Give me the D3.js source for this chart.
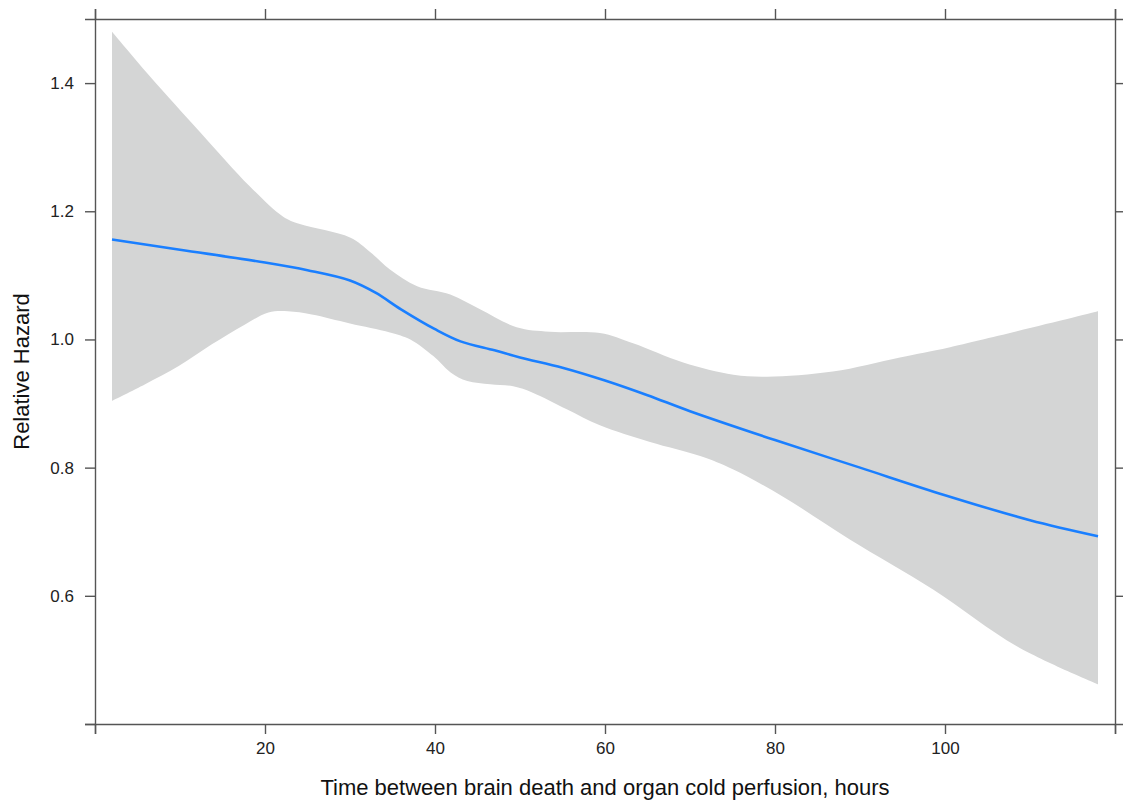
<!DOCTYPE html>
<html>
<head>
<meta charset="utf-8">
<script src="https://cdn.jsdelivr.net/npm/d3@7"></script>
<style>
  body { margin: 0; background: #fff; }
  svg { font-family: "Liberation Sans", Arial, sans-serif; }
</style>
</head>
<body>
<div id="chart"></div>
<script>
// estimated hazard curve (hours -> relative hazard)
const fitHours = [2, 10, 20, 25, 30, 33, 36, 40, 43, 47, 50, 55, 60, 65, 70, 80, 90, 100, 110, 118];
const fitHazard = [1.156, 1.140, 1.120, 1.108, 1.092, 1.073, 1.047, 1.016, 0.997, 0.983, 0.972, 0.956,
  0.936, 0.913, 0.888, 0.843, 0.800, 0.757, 0.718, 0.693];

// upper confidence limit
const upperHours = [2, 6.5, 12.4, 18.2, 22.1, 24.1, 30, 32.4, 34.7, 37.9, 41.8, 45.3, 49.6, 53.5,
  59.4, 63.3, 69.2, 75.1, 79.1, 86.8, 94.7, 100.6, 118];
const upperHazard = [1.480, 1.410, 1.323, 1.239, 1.192, 1.180, 1.159, 1.136, 1.109, 1.083, 1.070,
  1.047, 1.019, 1.012, 1.010, 0.994, 0.964, 0.945, 0.942, 0.950, 0.972, 0.988, 1.044];

// lower confidence limit
const lowerHours = [2, 5.9, 9.8, 13.7, 17.6, 20.4, 22.7, 25.5, 30, 34.7, 37.1, 39.8, 41.8, 43.8,
  46.5, 49.2, 51.5, 55.5, 59.4, 65.3, 71.2, 75.1, 80.9, 88.8, 98.6, 108.5, 118];
const lowerHazard = [0.904, 0.930, 0.958, 0.992, 1.023, 1.042, 1.044, 1.039, 1.025, 1.011, 1.000,
  0.974, 0.949, 0.935, 0.930, 0.927, 0.917, 0.891, 0.866, 0.840, 0.818, 0.797, 0.755, 0.688,
  0.610, 0.521, 0.462];

const xTicks = [0, 20, 40, 60, 80, 100, 120];
const xTickLabels = ["", "20", "40", "60", "80", "100", ""];
const yTicks = [0.4, 0.6, 0.8, 1.0, 1.2, 1.4];
const yTickLabels = ["", "0.6", "0.8", "1.0", "1.2", "1.4"];

const width = 1123, height = 804;
const margin = {top: 19, right: 8, bottom: 80, left: 95};
const axisColor = "#555";

const svg = d3.select("#chart").append("svg")
  .attr("width", width)
  .attr("height", height);

const x = d3.scaleLinear().domain([0, 120]).range([margin.left, width - margin.right]);
const y = d3.scaleLinear().domain([0.4, 1.5]).range([height - margin.bottom, margin.top]);

const lower = lowerHours.map((h, i) => [h, lowerHazard[i]]);
const upper = upperHours.map((h, i) => [h, upperHazard[i]]);
const smooth = d3.line().x(d => x(d[0])).y(d => y(d[1])).curve(d3.curveCatmullRom.alpha(0.5));

// band polygon: upper left->right, then lower right->left
const upperPath = smooth(upper);
const lowerRev = smooth(lower.slice().reverse());
svg.append("path")
  .attr("d", upperPath + "L" + lowerRev.slice(1) + "Z")
  .attr("fill", "#d4d5d5")
  .attr("stroke", "none");

// fit line
svg.append("path")
  .datum(fitHours.map((h, i) => [h, fitHazard[i]]))
  .attr("d", smooth)
  .attr("fill", "none")
  .attr("stroke", "#1a7fff")
  .attr("stroke-width", 2.6);

// frame + ticks on all sides
const tickLen = 10;
const bottomAxis = d3.axisBottom(x).tickValues(xTicks).tickSizeOuter(0).tickSize(tickLen)
  .tickPadding(8).tickFormat((d, i) => xTickLabels[i]);
const topAxis = d3.axisTop(x).tickValues(xTicks).tickSizeOuter(0).tickSize(tickLen).tickFormat("");
const leftAxis = d3.axisLeft(y).tickValues(yTicks).tickSizeOuter(0).tickSize(tickLen)
  .tickPadding(11).tickFormat((d, i) => yTickLabels[i]);
const rightAxis = d3.axisRight(y).tickValues(yTicks.slice(1)).tickSizeOuter(0).tickSize(tickLen).tickFormat("");

const gB = svg.append("g").attr("transform", `translate(0,${height - margin.bottom})`).call(bottomAxis);
const gT = svg.append("g").attr("transform", `translate(0,${margin.top})`).call(topAxis);
const gL = svg.append("g").attr("transform", `translate(${margin.left},0)`).call(leftAxis);
const gR = svg.append("g").attr("transform", `translate(${width - margin.right},0)`).call(rightAxis);

[gB, gT, gL, gR].forEach(g => {
  g.select(".domain").attr("stroke", axisColor).attr("stroke-width", 1.4);
  g.selectAll(".tick line").attr("stroke", axisColor).attr("stroke-width", 1.4);
  g.selectAll(".tick text").attr("fill", "#222").style("font-size", "17px")
    .style("font-family", "'Liberation Sans', Arial, sans-serif");
});

// axis titles
svg.append("text")
  .attr("x", (x(0) + x(120)) / 2)
  .attr("y", 795)
  .attr("text-anchor", "middle")
  .attr("fill", "#111")
  .style("font-size", "22px")
  .text("Time between brain death and organ cold perfusion, hours");

svg.append("text")
  .attr("transform", `translate(29,${(y(0.4) + y(1.5)) / 2}) rotate(-90)`)
  .attr("text-anchor", "middle")
  .attr("fill", "#111")
  .style("font-size", "22px")
  .text("Relative Hazard");
</script>
</body>
</html>
